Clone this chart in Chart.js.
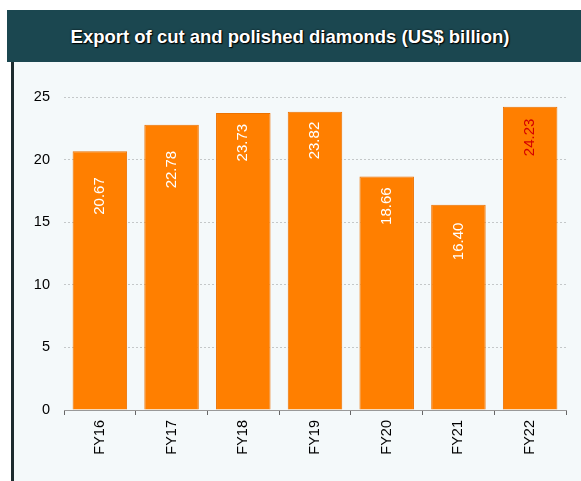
<!DOCTYPE html>
<html>
<head>
<meta charset="utf-8">
<script src="https://cdn.jsdelivr.net/npm/chart.js@4"></script>
<style>
  body { margin: 0; background: #fff; }
  #wrap { position: relative; width: 581px; height: 481px; overflow: hidden; }
  #header {
    position: absolute; left: 7px; top: 10px; width: 574px; height: 52px;
    background: #1b4750;
    color: #fff; font: bold 18.5px "Liberation Sans", Arial, sans-serif;
    text-align: center; line-height: 54px; text-indent: -8px;
    text-shadow: 1px 1px 1px #000, 0 0 2px #000;
  }
  #panel {
    position: absolute; left: 11px; top: 62px; width: 570px; height: 419px;
    background: #f4f9fa; border-left: 3px solid #1c2b2d;
  }
  #chart { position: absolute; left: 0; top: 0; }
</style>
</head>
<body>
<div id="wrap">
  <div id="header">Export of cut and polished diamonds (US$ billion)</div>
  <div id="panel"></div>
  <canvas id="chart" width="581" height="481"></canvas>
</div>
<script>
  "use strict";

  // data
  let years = ['FY16', 'FY17', 'FY18', 'FY19', 'FY20', 'FY21', 'FY22'];
  let exports = [20.67, 22.78, 23.73, 23.82, 18.66, 16.40, 24.23];
  let yTicks = [0, 5, 10, 15, 20, 25];

  // label look
  let labelColors = ['#fff', '#fff', '#fff', '#fff', '#fff', '#fff', '#d40000'];
  let labelGaps = [26, 26, 11, 10, 11, 18, 12];

  let barLabels = {
    id: 'barLabels',
    afterDatasetsDraw: function(chart) {
      let ctx = chart.ctx;
      let meta = chart.getDatasetMeta(0);
      ctx.save();
      ctx.font = '15px "Liberation Sans", Arial, sans-serif';
      ctx.textAlign = 'right';
      ctx.textBaseline = 'middle';
      meta.data.forEach(function(bar, i) {
        ctx.save();
        ctx.translate(bar.x, bar.y + labelGaps[i]);
        ctx.rotate(-Math.PI / 2);
        ctx.fillStyle = labelColors[i];
        ctx.fillText(exports[i].toFixed(2), 0, 0);
        ctx.restore();
      });
      ctx.restore();
    }
  };

  new Chart(document.getElementById('chart'), {
    type: 'bar',
    data: {
      labels: years,
      datasets: [{
        data: exports,
        backgroundColor: '#ff7f00',
        borderColor: '#ec7200',
        borderWidth: 1,
        categoryPercentage: 1,
        barPercentage: 0.76
      }]
    },
    options: {
      responsive: false,
      animation: false,
      layout: { padding: { top: 97, right: 15, left: 0, bottom: 0 } },
      plugins: { legend: { display: false }, tooltip: { enabled: false } },
      scales: {
        x: {
          afterFit: function(scale) { scale.height = 71; },
          grid: {
            offset: true,
            drawOnChartArea: false,
            drawTicks: true,
            tickLength: 5,
            color: '#666'
          },
          border: { display: true, color: '#999', width: 1 },
          ticks: {
            minRotation: 90,
            maxRotation: 90,
            padding: 5,
            color: '#000',
            font: { family: '"Liberation Sans", Arial, sans-serif', size: 14.5 }
          }
        },
        y: {
          min: 0,
          max: 25,
          afterFit: function(scale) { scale.width = 64; },
          afterBuildTicks: function(scale) {
            scale.ticks = yTicks.map(function(v) { return { value: v }; });
          },
          grid: { color: '#c4c8c9', drawTicks: false },
          border: { display: false, dash: [2, 2] },
          ticks: {
            padding: 14,
            color: '#000',
            font: { family: '"Liberation Sans", Arial, sans-serif', size: 14.5 }
          }
        }
      }
    },
    plugins: [barLabels]
  });
</script>
</body>
</html>
